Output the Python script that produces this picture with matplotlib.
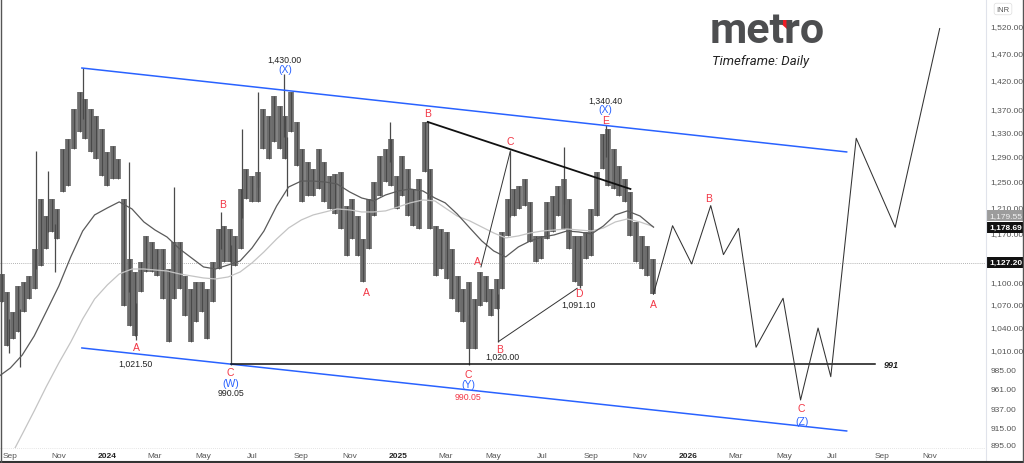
import pandas as pd
import matplotlib
matplotlib.use('Agg')
import matplotlib.pyplot as plt
import matplotlib.dates as mdates
import matplotlib.transforms as mtransforms
from matplotlib.lines import Line2D
from matplotlib.patches import Polygon

# weekly high / low of the daily bars (INR)
week_dates = pd.date_range('2023-08-21', periods=118, freq='7D')
band_hi = [1111.0, 1086.0, 1058.9, 1094.2, 1099.8, 1108.2, 1146.7, 1221.5, 1195.5, 1221.5,
           1206.2, 1301.2, 1317.7, 1368.7, 1398.5, 1386.0, 1368.7, 1356.6, 1334.5, 1296.3,
           1306.1, 1284.9, 1221.5, 1132.3, 1113.8, 1128.0, 1165.7, 1156.9, 1146.7, 1146.7,
           1118.0, 1156.9, 1156.9, 1108.2, 1090.1, 1099.8, 1099.8, 1090.1, 1128.0, 1176.0,
           1180.5, 1176.0, 1165.7, 1237.0, 1268.7, 1257.5, 1263.9, 1368.7, 1356.6, 1391.3,
           1373.9, 1356.6, 1398.5, 1346.4, 1301.2, 1280.0, 1268.7, 1301.2, 1280.0, 1257.5,
           1260.7, 1263.9, 1210.8, 1221.5, 1195.5, 1161.3, 1221.5, 1248.0, 1289.8, 1301.2,
           1317.7, 1257.5, 1289.8, 1268.7, 1237.0, 1252.7, 1346.4, 1268.7, 1180.5, 1176.0,
           1171.6, 1146.7, 1108.2, 1090.1, 1099.8, 1076.4, 1113.8, 1108.2, 1090.1, 1104.0,
           1171.6, 1221.5, 1237.0, 1241.7, 1252.7, 1217.0, 1165.7, 1165.7, 1217.0, 1226.1,
           1241.7, 1252.7, 1221.5, 1165.7, 1165.7, 1171.6, 1206.2, 1263.9, 1326.1, 1334.5,
           1301.2, 1273.5, 1252.7, 1232.3, 1186.5, 1165.7, 1151.0, 1132.3]
band_lo = [1072.3, 1014.3, 1023.3, 1032.4, 1058.9, 1076.4, 1090.1, 1122.3, 1146.7, 1171.6,
           1161.3, 1232.3, 1241.7, 1301.2, 1329.4, 1317.7, 1296.3, 1284.9, 1257.5, 1241.7,
           1252.7, 1252.7, 1067.3, 1040.3, 1027.2, 1086.0, 1113.8, 1113.8, 1108.2, 1076.4,
           1019.4, 1076.4, 1090.1, 1053.6, 1019.4, 1045.6, 1058.9, 1023.3, 1072.3, 1118.0,
           1128.0, 1128.0, 1122.3, 1146.7, 1221.5, 1217.0, 1217.0, 1301.2, 1284.9, 1312.7,
           1301.2, 1284.9, 1329.4, 1273.5, 1217.0, 1226.1, 1226.1, 1237.0, 1217.0, 1206.2,
           1198.6, 1176.0, 1136.6, 1161.3, 1136.6, 1099.8, 1146.7, 1195.5, 1226.1, 1248.0,
           1241.7, 1206.2, 1226.1, 1195.5, 1180.5, 1176.0, 1263.9, 1176.0, 1108.2, 1118.0,
           1104.0, 1076.4, 1058.9, 1045.6, 1010.5, 1010.5, 1067.3, 1072.3, 1053.6, 1062.9,
           1090.1, 1165.7, 1195.5, 1206.2, 1210.8, 1156.9, 1128.0, 1132.3, 1161.3, 1171.6,
           1195.5, 1176.0, 1146.7, 1099.8, 1094.2, 1132.3, 1136.6, 1195.5, 1268.7, 1241.7,
           1237.0, 1226.1, 1217.0, 1165.7, 1128.0, 1118.0, 1108.2, 1083.2]

# single long wicks
wick_dates = pd.to_datetime(['2023-08-30', '2023-09-13', '2023-10-03', '2023-10-18', '2023-10-27',
                             '2023-12-01', '2024-01-28', '2024-02-06', '2024-03-25', '2024-05-23',
                             '2024-06-04', '2024-06-19', '2024-07-08', '2024-08-10', '2024-08-14',
                             '2024-12-22', '2025-02-07', '2025-03-31', '2025-05-07', '2025-05-22',
                             '2025-07-28', '2025-08-17', '2025-09-19'])
wick_price = [1005.6, 987.8, 1297.9, 1265.5, 1113.8, 1441.4, 1280.0, 1021.5, 1240.1, 1201.6,
              990.05, 1334.5, 1398.5, 1430.0, 1226.1, 1346.4, 1348.0, 990.05, 1020.0, 1297.9,
              1304.4, 1091.1, 1340.4]

# moving averages, read twice a month
months = pd.date_range('2023-09-01', '2025-11-01', freq='MS')
ma_dates = ([pd.Timestamp('2023-08-16')]
            + [d + pd.Timedelta(days=k) for d in months for k in (0, 15)][:-1]
            + [pd.Timestamp('2025-11-18')])
ma_dark = [975.0,
           986.5, 1002.8, 1027.2, 1058.9, 1094.2, 1135.2, 1173.0, 1197.1,
           1207.7, 1217.0, 1206.2, 1186.5, 1174.5, 1164.2, 1146.7, 1133.7, 1120.9, 1118.0, 1123.7, 1129.4,
           1148.1, 1173.0, 1210.8, 1240.1, 1249.5, 1249.5, 1248.0, 1244.8, 1232.3, 1223.0, 1218.5, 1227.7,
           1233.9, 1237.0, 1233.9, 1223.0, 1215.5, 1198.6, 1177.5, 1158.4, 1143.8, 1135.2, 1149.6, 1158.4,
           1164.2, 1167.2, 1173.0, 1171.6, 1168.6, 1180.5, 1197.1, 1203.2, 1195.5,
           1178.69]
ma_light = [858.0,
            881.5, 907.4, 934.3, 963.1, 992.8, 1019.4, 1049.6, 1076.4,
            1095.7, 1111.0, 1118.0, 1118.0, 1116.6, 1115.2, 1111.0, 1108.2, 1105.4, 1104.0, 1106.8, 1113.8,
            1126.6, 1142.4, 1161.3, 1177.5, 1189.5, 1197.1, 1201.6, 1206.2, 1204.7, 1201.6, 1201.6, 1203.2,
            1209.3, 1215.5, 1220.0, 1218.5, 1207.7, 1195.5, 1188.0, 1179.0, 1170.1, 1162.8, 1165.7, 1170.1,
            1173.0, 1174.5, 1176.0, 1174.5, 1173.0, 1177.5, 1186.5, 1191.0, 1186.5,
            1179.55]
last_price = 1127.20

# projected path
proj_dates = pd.to_datetime(['2025-11-18', '2025-12-12', '2026-01-05', '2026-01-29', '2026-02-14',
                             '2026-03-05', '2026-03-27', '2026-04-30', '2026-05-22', '2026-06-13',
                             '2026-06-29', '2026-07-31', '2026-09-18', '2026-11-13'])
proj_price = [1083.0, 1180.9, 1125.2, 1211.3, 1138.5, 1177.0, 1012.7, 1077.4, 947.4, 1037.6,
              975.7, 1318.9, 1178.5, 1515.2]

# channel and wave lines
chan_dates = pd.to_datetime(['2023-11-30', '2026-07-19'])
chan_upper = [1441.4, 1296.3]
chan_lower = [1011.8, 911.0]
be_dates = pd.to_datetime(['2025-02-07', '2025-10-20'])
be_price = [1346.4, 1237.0]
ac_dates = pd.to_datetime(['2025-04-15', '2025-05-22'])
ac_price = [1120.9, 1297.9]
bd_dates = pd.to_datetime(['2025-05-07', '2025-08-14'])
bd_price = [1020.0, 1091.1]
support = 991
support_dates = pd.to_datetime(['2024-06-04', '2026-08-23'])

RED = '#f23645'
BLUE = '#2962ff'
BLK = '#222222'

# text, anchor date, anchor price, dx px, dy px, colour
wave_labels = [
    ('B', '2024-05-23', 1201.6, 2, 8, RED),
    ('A', '2024-02-06', 1021.5, 0, -7, RED),
    ('1,021.50', '2024-02-06', 1021.5, -1, -23, BLK),
    ('C', '2024-06-04', 990.05, 0, -7, RED),
    ('(W)', '2024-06-04', 990.05, 0, -18, BLUE),
    ('990.05', '2024-06-04', 990.05, 0, -27, BLK),
    ('1,430.00', '2024-08-10', 1430.0, 1, 15, BLK),
    ('(X)', '2024-08-10', 1430.0, 1, 5, BLUE),
    ('A', '2024-11-21', 1099.8, 1, -10, RED),
    ('B', '2025-02-07', 1348.0, 0, 8, RED),
    ('C', '2025-05-22', 1297.9, 0, 10, RED),
    ('A', '2025-04-15', 1120.9, -4, 6, RED),
    ('B', '2025-05-07', 1020.0, 1, -7, RED),
    ('1,020.00', '2025-05-07', 1020.0, 4, -15, BLK),
    ('D', '2025-08-14', 1091.1, 2, -5, RED),
    ('1,091.10', '2025-08-14', 1091.1, 1, -16, BLK),
    ('E', '2025-09-19', 1340.4, 0, 5, RED),
    ('(X)', '2025-09-19', 1340.4, 0, 16, BLUE),
    ('1,340.40', '2025-09-19', 1340.4, 0, 25, BLK),
    ('A', '2025-11-18', 1083.0, 0, -10, RED),
    ('C', '2025-03-31', 990.05, -1, -9, RED),
    ('(Y)', '2025-03-31', 990.05, -1, -19, BLUE),
    ('990.05', '2025-03-31', 990.05, -1, -31, RED),
    ('B', '2026-01-29', 1211.3, -2, 8, RED),
    ('C', '2026-05-22', 947.4, 1, -8, RED),
    ('(Z)', '2026-05-22', 947.4, 1, -21, BLUE),
]

y_ticks = [895, 915, 937, 961, 985, 1010, 1040, 1070, 1100, 1170, 1210, 1250, 1290, 1330,
           1370, 1420, 1470, 1520]

plt.rcParams['font.family'] = ['Liberation Sans', 'DejaVu Sans']

fig = plt.figure(figsize=(10.24, 4.64), dpi=100)
ax = fig.add_axes([0, 15 / 464, 985 / 1024, 449 / 464])
ax.set_yscale('log')
ax.set_ylim(891.6, 1572.8)
x0 = mdates.date2num(pd.Timestamp('2023-08-19'))
ax.set_xlim(x0, x0 + 985 / 0.795)

# bars
mid = [(h + l) / 2 for h, l in zip(band_hi, band_lo)]
ax.vlines(week_dates, band_lo, band_hi, color='#6c6c6c', lw=4.1, zorder=2)
ax.vlines(week_dates, band_lo, band_hi, color='#3a3a3a', lw=0.5, zorder=2)
wick_mid = []
for d, p in zip(wick_dates, wick_price):
    i = min(range(len(week_dates)), key=lambda k: abs((week_dates[k] - d).days))
    wick_mid.append(mid[i])
ax.vlines(wick_dates, [min(a, b) for a, b in zip(wick_mid, wick_price)],
          [max(a, b) for a, b in zip(wick_mid, wick_price)], color='#4a4a4a', lw=0.9, zorder=2)

# moving averages
ax.plot(ma_dates, ma_light, color='#c4c4c4', lw=0.9, zorder=3)
ax.plot(ma_dates, ma_dark, color='#5a5a5a', lw=0.9, zorder=3)

# last price line
ax.axhline(last_price, color='#9a9a9a', lw=0.6, ls=(0, (1, 1.5)), zorder=1)

# drawings
ax.plot(chan_dates, chan_upper, color=BLUE, lw=1.1, zorder=4)
ax.plot(chan_dates, chan_lower, color=BLUE, lw=1.1, zorder=4)
ax.plot(be_dates, be_price, color='#111111', lw=1.3, zorder=4)
ax.plot(ac_dates, ac_price, color='#333333', lw=0.7, zorder=4)
ax.plot(bd_dates, bd_price, color='#333333', lw=0.7, zorder=4)
ax.plot(support_dates, [support, support], color='#111111', lw=1.1, zorder=4)
ax.plot(proj_dates, proj_price, color='#333333', lw=0.75, zorder=4)
ax.annotate(str(support), (support_dates[1], support), xytext=(7, 0), textcoords='offset points',
            ha='left', va='center', fontsize=6.5, fontweight='bold', fontstyle='italic', color=BLK)

for txt, d, p, dx, dy, c in wave_labels:
    big = not txt[0].isdigit()
    ax.annotate(txt, (pd.Timestamp(d), p), xytext=(dx * 0.72, dy * 0.72), textcoords='offset points',
                ha='center', va='center', color=c, fontsize=7.5 if big else 6.3, zorder=5)

# axes styling
for s in ax.spines.values():
    s.set_visible(False)
ax.yaxis.tick_right()
ax.yaxis.set_major_locator(matplotlib.ticker.FixedLocator(y_ticks))
ax.yaxis.set_minor_locator(matplotlib.ticker.NullLocator())
ax.set_yticklabels([f'{v:,.2f}' for v in y_ticks])
ax.tick_params(axis='y', length=0, pad=4, labelsize=6, labelcolor='#555555')

x_ticks = pd.date_range('2023-09-01', '2026-11-01', freq='2MS')
ax.set_xticks(x_ticks)
ax.set_xticklabels([str(d.year) if d.month == 1 else d.strftime('%b') for d in x_ticks])
ax.tick_params(axis='x', length=0, pad=3, labelsize=6, labelcolor='#555555')
for lab, d in zip(ax.get_xticklabels(), x_ticks):
    if d.month == 1:
        lab.set_color('#222222')
        lab.set_fontweight('bold')

# value boxes on the price scale
trans = mtransforms.blended_transform_factory(ax.transAxes, ax.transData)
ax.annotate(f'{ma_light[-1]:,.2f}', (1.004, ma_light[-1]), xycoords=trans, xytext=(0, 8),
            textcoords='offset points', ha='left', va='center', fontsize=6, color='#f2f2f2',
            bbox=dict(boxstyle='square,pad=0.25', fc='#9c9c9c', ec='none'), annotation_clip=False)
ax.annotate(f'{ma_dark[-1]:,.2f}', (1.004, ma_dark[-1]), xycoords=trans, ha='left', va='center',
            fontsize=6, color='white', fontweight='bold',
            bbox=dict(boxstyle='square,pad=0.25', fc='#111111', ec='none'), annotation_clip=False)
ax.annotate(f'{last_price:,.2f}', (1.004, last_price), xycoords=trans, ha='left', va='center',
            fontsize=6, color='white', fontweight='bold',
            bbox=dict(boxstyle='square,pad=0.25', fc='#111111', ec='none'), annotation_clip=False)

# frame and scale separators
fig.add_artist(Line2D([985.5 / 1024] * 2, [0, 1], transform=fig.transFigure, color='#e0e3eb', lw=0.8))
fig.add_artist(Line2D([0, 985 / 1024], [1 - 449 / 464] * 2, transform=fig.transFigure,
                      color='#cccccc', lw=0.5, ls=(0, (1, 2))))
fig.add_artist(Line2D([0, 1], [1.5 / 464] * 2, transform=fig.transFigure, color='#333333', lw=1.5))
fig.add_artist(Line2D([0.5 / 1024] * 2, [0, 1], transform=fig.transFigure, color='#555555', lw=1.0))
fig.add_artist(Line2D([1023 / 1024] * 2, [0, 1], transform=fig.transFigure, color='#555555', lw=1.0))

fig.text(1003 / 1024, 1 - 10 / 464, 'INR', ha='center', va='center', fontsize=5.5, color='#555555',
         bbox=dict(boxstyle='round,pad=0.3', fc='white', ec='#dddddd', lw=0.5))

# logo
fig.text(710 / 1024, 1 - 43 / 464, 'metro', ha='left', va='baseline', fontsize=31,
         fontweight='bold', family='Roboto', color='#4d4e50')
fig.add_artist(Polygon([(777 / 1024, 1 - 21 / 464), (788 / 1024, 1 - 21 / 464), (788 / 1024, 1 - 31 / 464)],
                       closed=True, transform=fig.transFigure, fc='#ee1c25', ec='none'))
fig.text(712 / 1024, 1 - 61 / 464, 'Timeframe: Daily', ha='left', va='center', fontsize=9.5,
         fontstyle='italic', family='Roboto', color='#222222')

fig.savefig('out.png', dpi=100)
